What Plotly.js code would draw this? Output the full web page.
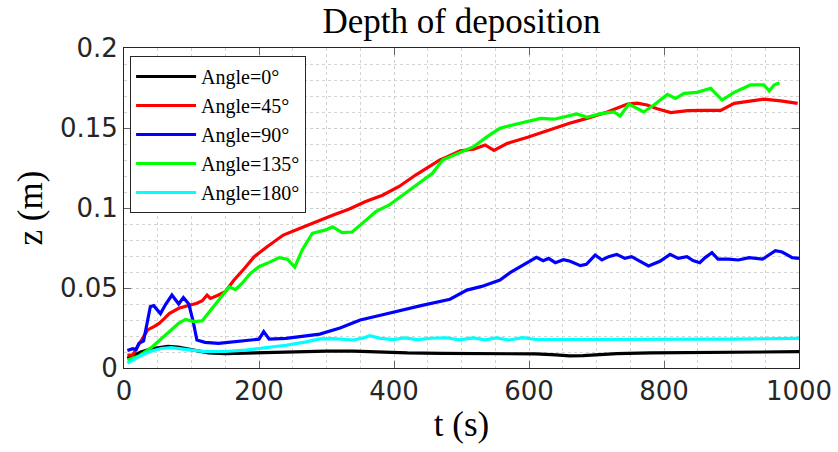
<!DOCTYPE html>
<html>
<head>
<meta charset="utf-8">
<script src="https://cdn.plot.ly/plotly-3.0.1.min.js"></script>
<style>html,body{margin:0;padding:0;background:#fff;}#chart{width:838px;height:452px;}</style>
</head>
<body>
<div id="chart"></div>
<script>
// Angle = 0 deg (black)
var t0 = [5,15,25,40,55,65,80,95,110,125,150,180,210,250,300,340,380,420,470,520,570,610,640,660,680,700,730,780,850,920,1000];
var z0 = [0.006,0.008,0.010,0.012,0.0132,0.0135,0.013,0.012,0.0105,0.0095,0.009,0.0093,0.0097,0.0102,0.0106,0.0105,0.0098,0.0094,0.0092,0.0091,0.009,0.0088,0.0082,0.0076,0.0077,0.0083,0.009,0.0094,0.0096,0.0099,0.0102];

// Angle = 45 deg (red)
var t1 = [5,13,20,28,35,45,52,60,67,81,96,108,116,123,128,135,140,150,163,178,193,212,236,261,285,310,333,358,383,407,432,452,468,476,498,518,535,548,568,598,637,660,686,716,746,760,775,790,810,835,859,884,904,923,948,973,998];
var z1 = [0.008,0.0081,0.0133,0.019,0.0238,0.026,0.0279,0.031,0.034,0.0373,0.039,0.0405,0.042,0.0456,0.0435,0.0445,0.0456,0.0477,0.055,0.062,0.0696,0.0758,0.0831,0.0873,0.0915,0.0956,0.0992,0.104,0.108,0.1133,0.1206,0.126,0.130,0.1315,0.1358,0.1367,0.1394,0.136,0.1404,0.1442,0.1498,0.153,0.156,0.160,0.165,0.1655,0.1644,0.162,0.1596,0.1608,0.161,0.161,0.1654,0.1665,0.168,0.167,0.1654];

// Angle = 90 deg (blue)
var t2 = [5,13,18,22,29,34,39,44,54,62,71,81,88,96,102,108,120,140,170,200,207,215,240,261,290,320,350,380,409,440,483,508,530,557,572,592,611,621,629,639,651,661,676,685,698,708,718,730,742,752,764,777,794,809,821,834,843,853,861,871,880,896,910,926,946,965,975,990,1000];
var z2 = [0.011,0.0121,0.0115,0.0154,0.0169,0.028,0.0383,0.039,0.034,0.040,0.0456,0.040,0.044,0.040,0.030,0.0175,0.016,0.0154,0.0165,0.018,0.0227,0.018,0.0185,0.0196,0.0212,0.025,0.030,0.033,0.036,0.039,0.043,0.0487,0.051,0.055,0.0596,0.0644,0.0692,0.0671,0.0685,0.0658,0.0677,0.0667,0.064,0.0648,0.0706,0.0675,0.0696,0.071,0.0685,0.0696,0.0667,0.0638,0.0667,0.071,0.0685,0.0696,0.0671,0.0658,0.069,0.0721,0.068,0.068,0.0675,0.069,0.068,0.0733,0.0725,0.069,0.0685];

// Angle = 135 deg (green)
var t3 = [5,22,42,62,81,91,104,116,131,146,156,165,175,187,200,215,230,242,253,264,279,299,309,323,338,353,373,393,417,437,457,472,488,503,518,538,557,577,597,617,637,656,671,686,706,726,735,748,760,770,785,805,817,830,849,869,886,904,928,948,956,963,971];
var z3 = [0.005,0.0075,0.0133,0.0206,0.028,0.0304,0.029,0.0295,0.0373,0.0456,0.0508,0.049,0.053,0.059,0.0633,0.066,0.069,0.068,0.063,0.0738,0.0842,0.0863,0.0883,0.0846,0.085,0.0904,0.0977,0.1019,0.1092,0.1154,0.1217,0.130,0.133,0.136,0.1383,0.1446,0.1498,0.152,0.154,0.156,0.1555,0.1575,0.1588,0.1567,0.159,0.160,0.1575,0.165,0.1625,0.160,0.1644,0.171,0.1685,0.1717,0.1723,0.1748,0.1675,0.1723,0.1769,0.1769,0.1731,0.1769,0.1783];

// Angle = 180 deg (cyan)
var t4 = [5,15,25,40,55,70,85,100,120,150,180,210,240,270,290,310,325,340,355,364,380,400,415,435,455,478,497,517,535,552,570,591,610,650,700,800,900,1000];
var z4 = [0.003,0.0055,0.0078,0.0105,0.0122,0.0127,0.0122,0.0112,0.0102,0.0103,0.0112,0.0125,0.0142,0.0163,0.0182,0.0183,0.0177,0.0175,0.0188,0.0202,0.0185,0.0177,0.0188,0.0178,0.0186,0.0189,0.0176,0.0188,0.0176,0.0188,0.0175,0.019,0.0178,0.0178,0.0179,0.018,0.0181,0.0185];

var names = ['Angle=0°','Angle=45°','Angle=90°','Angle=135°','Angle=180°'];
var colors = ['#000000','#ff0000','#0000ff','#00ff00','#00ffff'];
var ts = [t0,t1,t2,t3,t4];
var zs = [z0,z1,z2,z3,z4];

var traces = ts.map(function(t,i){
  return {x:t, y:zs[i], type:'scatter', mode:'lines', name:names[i],
          line:{color:colors[i], width:3.2}};
});

var serif = 'Liberation Serif, Times New Roman, serif';
var tickFont = {family:'DejaVu Sans, sans-serif', size:26, color:'#262626'};

var layout = {
  width:838, height:452,
  margin:{l:124, r:39, t:48, b:84},
  paper_bgcolor:'#ffffff', plot_bgcolor:'#ffffff',
  showlegend:true,
  title:{text:'Depth of deposition', font:{family:serif, size:35, color:'#000'},
         x:0.5, xref:'paper', y:0.982, yref:'container', yanchor:'top'},
  xaxis:{range:[0,1000], dtick:200, tick0:0, ticks:'inside', ticklen:7, tickcolor:'#666',
         showline:true, linecolor:'#262626', linewidth:1, mirror:'ticks', zeroline:false,
         showgrid:true, gridcolor:'#cccccc', griddash:'dot', gridwidth:1,
         minor:{dtick:50, showgrid:true, gridcolor:'#d4d4d4', griddash:'dot', ticks:''},
         tickfont:tickFont,
         title:{text:'t (s)', font:{family:serif, size:35, color:'#000'}, standoff:6}},
  yaxis:{range:[0,0.2], dtick:0.05, tick0:0, ticks:'inside', ticklen:7, tickcolor:'#666',
         showline:true, linecolor:'#262626', linewidth:1, mirror:'ticks', zeroline:false,
         showgrid:true, gridcolor:'#cccccc', griddash:'dot', gridwidth:1,
         minor:{dtick:0.01, showgrid:true, gridcolor:'#d4d4d4', griddash:'dot', ticks:''},
         tickfont:tickFont,
         title:{text:'z (m)', font:{family:serif, size:35, color:'#000'}, standoff:6}},
  legend:{x:0.009, y:0.975, xanchor:'left', yanchor:'top', bgcolor:'#ffffff',
          bordercolor:'#262626', borderwidth:1, font:{family:serif, size:20, color:'#000'},
          tracegroupgap:0, itemwidth:60}
};

Plotly.newPlot('chart', traces, layout, {displayModeBar:false, staticPlot:true});
</script>
</body>
</html>
